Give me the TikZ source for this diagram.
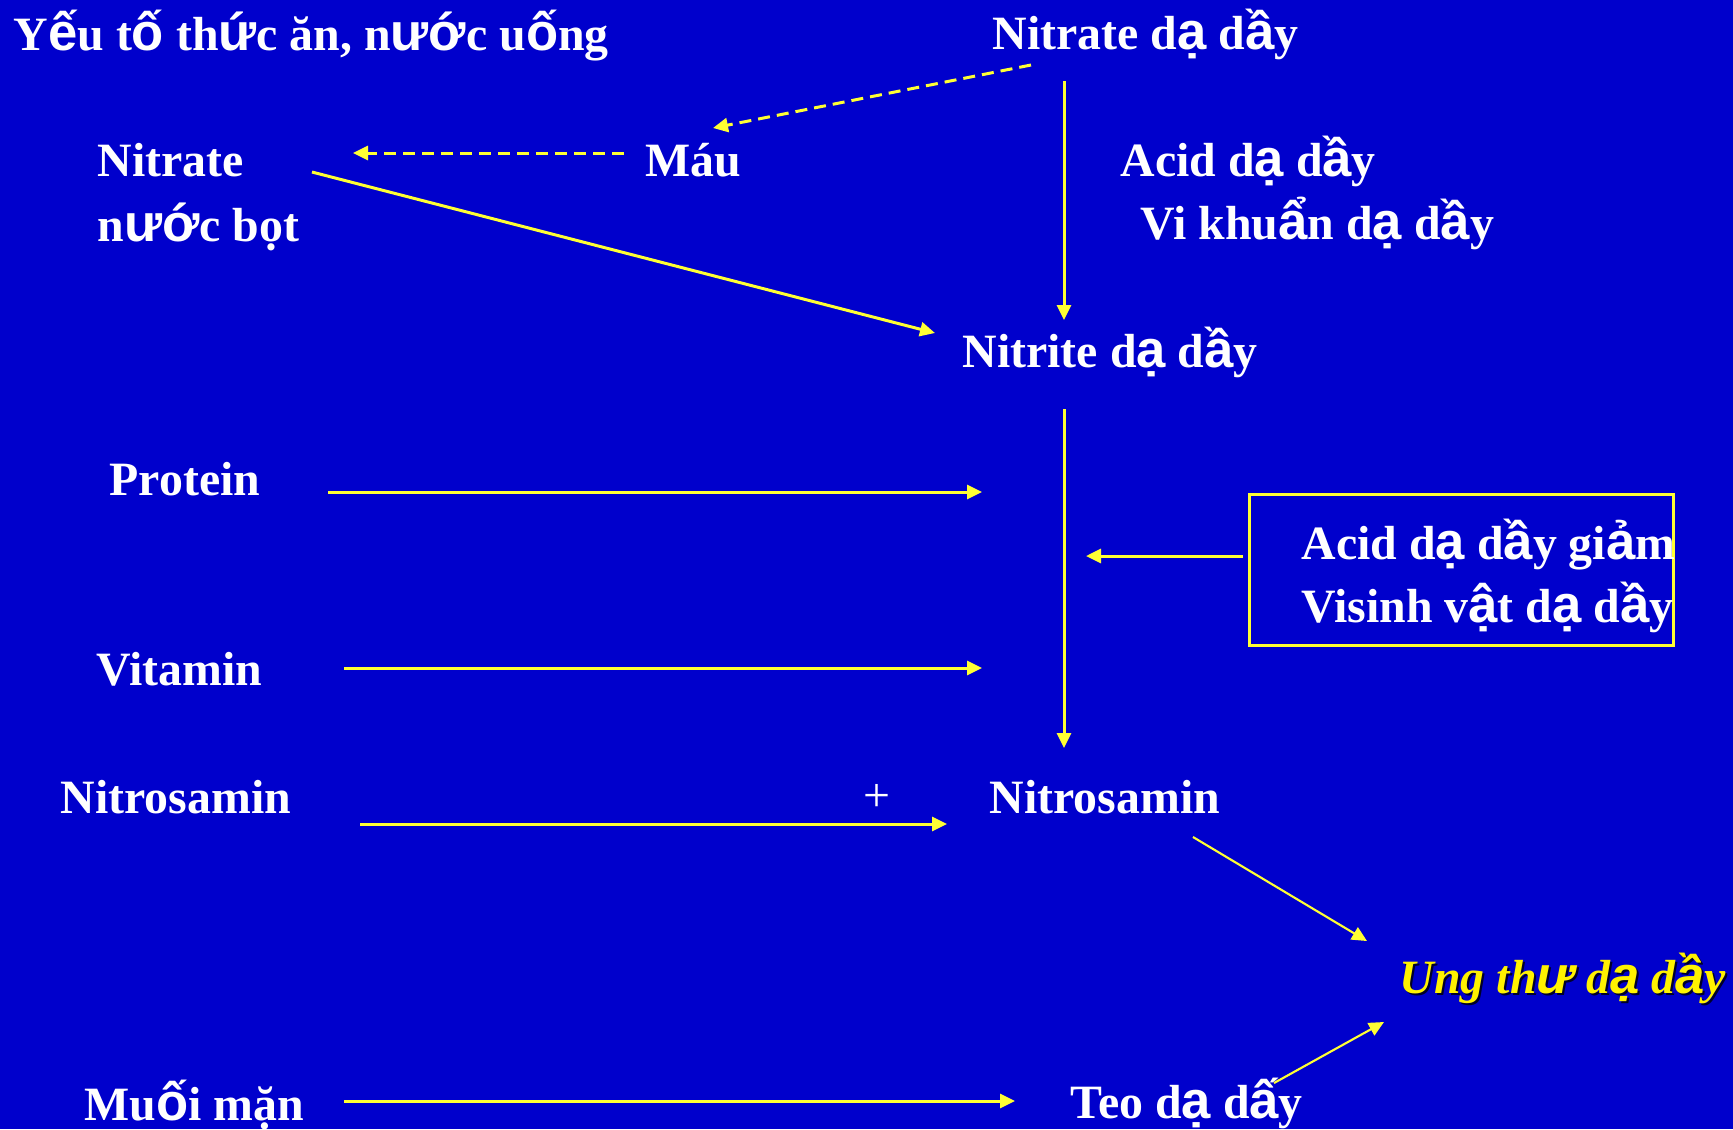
\documentclass[tikz,border=0pt]{standalone}
\usepackage{fontspec}
\setmainfont{Liberation Serif}
\newfontfamily\vnsans[Scale=1.1]{Liberation Sans}
\newcommand{\vnc}[1]{{\vnsans #1}}
\usetikzlibrary{calc}
\usetikzlibrary{arrows.meta}
\usetikzlibrary{positioning}
\definecolor{slideblue}{RGB}{0,0,204}
\definecolor{arrowyellow}{RGB}{255,255,51}
\tikzset{lbl/.style = {text=white, inner sep=0pt, anchor=base west,
                       font=\bfseries\fontsize{13.6}{16}\selectfont},
         link/.style = {draw=arrowyellow, line width=0.85pt,
                        -{Triangle[length=0.15cm,width=0.14cm]}},
         dlink/.style = {link, dash pattern=on 0.12cm off 0.07cm},
         tlink/.style = {link, line width=0.6pt}}

\begin{document}
\begin{tikzpicture}[x=0.01cm, y=-0.01cm]
  \fill[slideblue] (0,0) rectangle (1733,1129);
  % labels
  \node[lbl] (title)     at (13,50)
        {Y\vnc{ế}u t\vnc{ố} th\vnc{ứ}c ăn, n\vnc{ướ}c u\vnc{ố}ng};
  \node[lbl] (nitratedd) at (992,49)   {Nitrate d\vnc{ạ} d\vnc{ầ}y};
  \node[lbl] (nitrate)   at (97,176)   {Nitrate};
  \node[lbl] (nuocbot)   at (97,241)   {n\vnc{ướ}c bọt};
  \node[lbl] (mau)       at (645,176)  {Máu};
  \node[lbl] (acid)      at (1120,176) {Acid d\vnc{ạ} d\vnc{ầ}y};
  \node[lbl] (vikhuan)   at (1140,239) {Vi khu\vnc{ẩ}n d\vnc{ạ} d\vnc{ầ}y};
  \node[lbl] (nitrite)   at (962,367)  {Nitrite d\vnc{ạ} d\vnc{ầ}y};
  \node[lbl] (protein)   at (109,495)  {Protein};
  \node[draw=arrowyellow, line width=0.8pt, inner sep=0pt, anchor=north west,
        minimum width=4.24cm, minimum height=1.51cm] (condbox) at (1248,493) {};
  \node[lbl] (acidgiam)  at (1301,559) {Acid d\vnc{ạ} d\vnc{ầ}y gi\vnc{ả}m};
  \node[lbl] (visinh)    at (1301,622) {Visinh v\vnc{ậ}t d\vnc{ạ} d\vnc{ầ}y};
  \node[lbl] (vitamin)   at (96,685)   {Vitamin};
  \node[lbl] (nsleft)    at (60,813)   {Nitrosamin};
  \node[text=white, inner sep=0pt, font=\fontsize{13.6}{16}\selectfont]
        (plus) at (877,798) {+};
  \node[lbl] (nsright)   at (989,813)  {Nitrosamin};
  \node[lbl, text=black!80!slideblue] (ungshadow) at (1401,995)
        {\itshape Ung th\vnc{ư} d\vnc{ạ} d\vnc{ầ}y};
  \node[lbl, text=yellow] (ung) at (1399,993)
        {\itshape Ung th\vnc{ư} d\vnc{ạ} d\vnc{ầ}y};
  \node[lbl] (muoi)      at (84,1120)  {Mu\vnc{ố}i mặn};
  \node[lbl] (teo)       at (1070,1118) {Teo d\vnc{ạ} d\vnc{ấ}y};
  % connectors
  \draw[dlink] ($(nitratedd.base west)+(39,16)$) -- ($(mau.base west)+(68,-48)$);
  \draw[dlink] ($(mau.base west)+(-21,-23)$) -- ($(nitrate.base west)+(256,-23)$);
  \draw[link] ($(nitrate.base west)+(215,-4)$) -- ($(nitrite.base west)+(-27,-34)$);
  \draw[link] ($(nitratedd.base west)+(72,32)$) -- ($(nitrite.base west)+(102,-47)$);
  \draw[link] ($(nitrite.base west)+(102,42)$) -- ($(nsright.base west)+(75,-65)$);
  \draw[link] ($(protein.base west)+(219,-3)$) -- ($(nsright.base west)+(-7,-321)$);
  \draw[link] ($(condbox.north west)+(-5,63)$) -- ($(nsright.base west)+(97,-257)$);
  \draw[link] ($(vitamin.base west)+(248,-17)$) -- ($(nsright.base west)+(-7,-145)$);
  \draw[link] ($(nsleft.base west)+(300,11)$) -- ($(nsright.base west)+(-42,11)$);
  \draw[tlink] ($(nsright.base west)+(204,24)$) -- ($(ung.base west)+(-32,-52)$);
  \draw[tlink] ($(teo.base west)+(204,-35)$) -- ($(ung.base west)+(-15,29)$);
  \draw[link] ($(muoi.base west)+(260,-19)$) -- ($(teo.base west)+(-55,-17)$);
\end{tikzpicture}
\end{document}
